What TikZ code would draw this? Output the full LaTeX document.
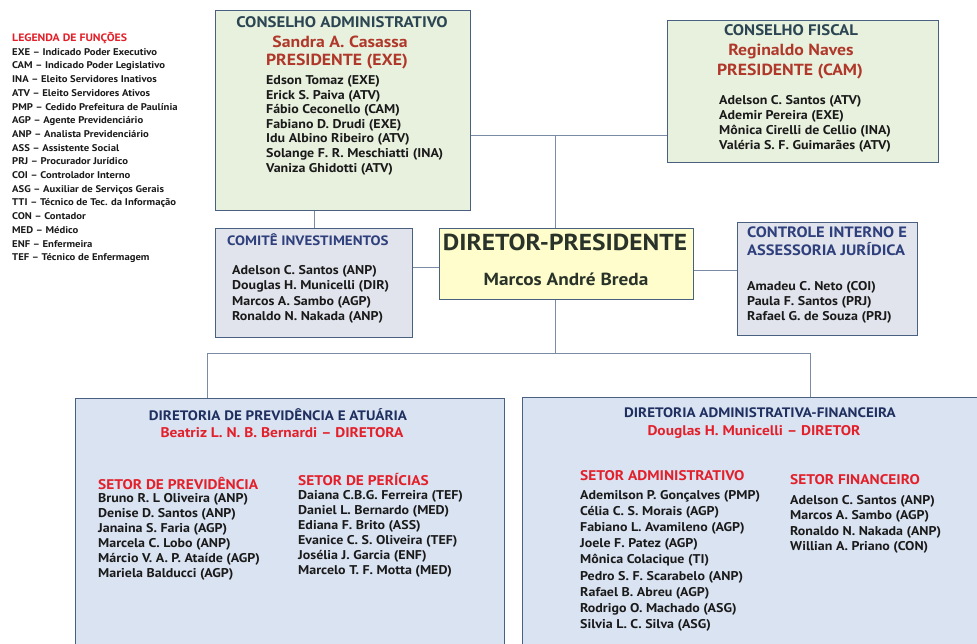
\documentclass[tikz,border=0pt]{standalone}
\usepackage{fontspec}
\setmainfont{PT Sans}[FakeStretch=1.1]
\definecolor{greenfill}{HTML}{E8F1DE}
\definecolor{grayfill}{HTML}{E1E4EC}
\definecolor{yelfill}{HTML}{FEFDCB}
\definecolor{bluefill}{HTML}{DAE3F2}
\definecolor{bordercol}{HTML}{4A6080}
\definecolor{conncol}{HTML}{7A8CA5}
\definecolor{tealhd}{HTML}{2B4552}
\definecolor{navyhd}{HTML}{2E3F7C}
\definecolor{darkhd}{HTML}{1F2F5F}
\definecolor{brownred}{HTML}{B0382A}
\definecolor{brightred}{HTML}{E3202A}
\definecolor{txt}{HTML}{1A1A1A}
\definecolor{dptxt}{HTML}{2A332A}
\begin{document}
\begin{tikzpicture}[x=1pt,y=-1pt,
  box/.style={draw=bordercol,line width=1.4pt,anchor=north west,inner sep=0},
  conn/.style={draw=conncol,line width=1pt},
  txtnode/.style={inner sep=0,text=txt,font=\bfseries\fontsize{#1}{#1}\selectfont},
  member/.style={txtnode=12.7,anchor=mid west},
  leg/.style={txtnode=9.7,anchor=mid west},
  legtitle/.style={txtnode=10.7,anchor=mid west,text=brightred},
  hdteal/.style={txtnode=15.3,anchor=mid,text=tealhd},
  hdred/.style={txtnode=16.1,anchor=mid,text=brownred},
  hdnavy/.style={txtnode=13.6,anchor=mid west,text=navyhd},
  hdnavyb/.style={txtnode=15,anchor=mid west,text=navyhd},
  hddark/.style={txtnode=13.7,anchor=mid,text=darkhd},
  hdsubred/.style={txtnode=14,anchor=mid,text=brightred},
  setor/.style={txtnode=14,anchor=mid west,text=brightred},
]
\useasboundingbox (0,0) rectangle (977,643);
\clip (0,0) rectangle (977,643);
\fill[white] (0,0) rectangle (977,643);

% boxes
\node[box,fill=greenfill,minimum width=255pt,minimum height=200pt] (ca) at (215,10) {};
\node[box,fill=greenfill,minimum width=271pt,minimum height=142pt] (cf) at (667,20) {};
\node[box,fill=grayfill,minimum width=197pt,minimum height=109pt] (cm) at (215,228) {};
\node[box,fill=yelfill,minimum width=254pt,minimum height=71pt] (dp) at (439,228) {};
\node[box,fill=grayfill,minimum width=180pt,minimum height=113pt] (ci) at (737,222) {};
\node[box,fill=bluefill,minimum width=429pt,minimum height=300pt] (bl) at (75,398) {};
\node[box,fill=bluefill,minimum width=500pt,minimum height=300pt] (br) at (522,397) {};

% connectors
\coordinate (j1) at (555,135);
\coordinate (bus) at (555,353);
\coordinate (b1) at (207,353);
\coordinate (b2) at (810,353);
\draw[conn] (cm.north) -- (cm.north |- ca.south);
\draw[conn] (ca.east |- j1) -- (cf.west |- j1);
\draw[conn] (j1) -- (j1 |- dp.north);
\draw[conn] (cm.east |- 0,267) -- (dp.west |- 0,267);
\draw[conn] (dp.east |- 0,270) -- (ci.west |- 0,270);
\draw[conn] (bus |- dp.south) -- (bus);
\draw[conn] (b1 |- bl.north) -- (b1) -- (b2) -- (b2 |- br.north);

% legend
\node[legtitle] (lgt) at (12,39) {LEGENDA DE FUNÇÕES};
\foreach \t [count=\i] in {EXE – Indicado Poder Executivo,CAM – Indicado Poder Legislativo,INA – Eleito Servidores Inativos,ATV – Eleito Servidores Ativos,PMP – Cedido Prefeitura de Paulínia,AGP – Agente Previdenciário,ANP – Analista Previdenciário,ASS – Assistente Social,PRJ – Procurador Jurídico,COI – Controlador Interno,ASG – Auxiliar de Serviços Gerais,TTI – Técnico de Tec. da Informação,CON – Contador,MED – Médico,ENF – Enfermeira,TEF – Técnico de Enfermagem}
  \node[leg] (lg\i) at (12,{39+13.7*\i}) {\t};

% conselho administrativo
\node[hdteal] (cah) at (342,25) {CONSELHO ADMINISTRATIVO};
\node[hdred] (cap) at (340,45) {Sandra A. Casassa};
\node[hdred] (capr) at (337,63) {PRESIDENTE (EXE)};
\foreach \t [count=\i] in {Edson Tomaz (EXE),Erick S. Paiva (ATV),Fábio Ceconello (CAM),Fabiano D. Drudi (EXE),Idu Albino Ribeiro (ATV),Solange F. R. Meschiatti (INA),Vaniza Ghidotti (ATV)}
  \node[member] (cam\i) at (266,{82+14.6*(\i-1)}) {\t};

% conselho fiscal
\node[hdteal] (cfh) at (791,33) {CONSELHO FISCAL};
\node[hdred] (cfp) at (791,53) {Reginaldo Naves};
\node[hdred] (cfpr) at (790,73) {PRESIDENTE (CAM)};
\foreach \t [count=\i] in {Adelson C. Santos (ATV),Ademir Pereira (EXE),Mônica Cirelli de Cellio (INA),Valéria S. F. Guimarães (ATV)}
  \node[member] (cfm\i) at (719,{102+15*(\i-1)}) {\t};

% comite
\node[hdnavy] (cmh) at (227,243) {COMITÊ INVESTIMENTOS};
\foreach \t [count=\i] in {Adelson C. Santos (ANP),Douglas H. Municelli (DIR),Marcos A. Sambo (AGP),Ronaldo N. Nakada (ANP)}
  \node[member] (cmm\i) at (232,{272+15.3*(\i-1)}) {\t};

% diretor presidente
\node[txtnode=23.1,anchor=mid,text=dptxt] (dph) at (565,248) {DIRETOR-PRESIDENTE};
\node[txtnode=17.5,anchor=mid,text=dptxt] (dpn) at (566,283) {Marcos André Breda};

% controle interno
\node[hdnavyb] (cih1) at (747,235) {CONTROLE INTERNO E};
\node[hdnavyb] (cih2) at (747,253) {ASSESSORIA JURÍDICA};
\foreach \t [count=\i] in {Amadeu C. Neto (COI),Paula F. Santos (PRJ),Rafael G. de Souza (PRJ)}
  \node[member] (cim\i) at (747,{288+15*(\i-1)}) {\t};

% diretoria previdencia
\node[hddark] (blh) at (278,418) {DIRETORIA DE PREVIDÊNCIA E ATUÁRIA};
\node[hdsubred] (bld) at (282,435) {Beatriz L. N. B. Bernardi – DIRETORA};
\node[setor] (sp) at (98,487) {SETOR DE PREVIDÊNCIA};
\node[setor] (spe) at (298,483) {SETOR DE PERÍCIAS};
\foreach \t [count=\i] in {Bruno R. L Oliveira (ANP),Denise D. Santos (ANP),Janaina S. Faria (AGP),Marcela C. Lobo (ANP),Márcio V. A. P. Ataíde (AGP),Mariela Balducci (AGP)}
  \node[member] (spm\i) at (98,{500+15*(\i-1)}) {\t};
\foreach \t [count=\i] in {Daiana C.B.G. Ferreira (TEF),Daniel L. Bernardo (MED),Ediana F. Brito (ASS),Evanice C. S. Oliveira (TEF),Josélia J. Garcia (ENF),Marcelo T. F. Motta (MED)}
  \node[member] (spem\i) at (298,{497+15*(\i-1)}) {\t};

% diretoria administrativa
\node[hddark] (brh) at (760,415) {DIRETORIA ADMINISTRATIVA-FINANCEIRA};
\node[hdsubred] (brd) at (754,433) {Douglas H. Municelli – DIRETOR};
\node[setor] (sa) at (580,478) {SETOR ADMINISTRATIVO};
\node[setor] (sf) at (790,482) {SETOR FINANCEIRO};
\foreach \t [count=\i] in {Ademilson P. Gonçalves (PMP),Célia C. S. Morais (AGP),Fabiano L. Avamileno (AGP),Joele F. Patez (AGP),Mônica Colacique (TI),Pedro S. F. Scarabelo (ANP),Rafael B. Abreu (AGP),Rodrigo O. Machado (ASG),Silvia L. C. Silva (ASG)}
  \node[member] (sam\i) at (580,{497+16.1*(\i-1)}) {\t};
\foreach \t [count=\i] in {Adelson C. Santos (ANP),Marcos A. Sambo (AGP),Ronaldo N. Nakada (ANP),Willian A. Priano (CON)}
  \node[member] (sfm\i) at (790,{502+15.3*(\i-1)}) {\t};
\end{tikzpicture}
\end{document}
